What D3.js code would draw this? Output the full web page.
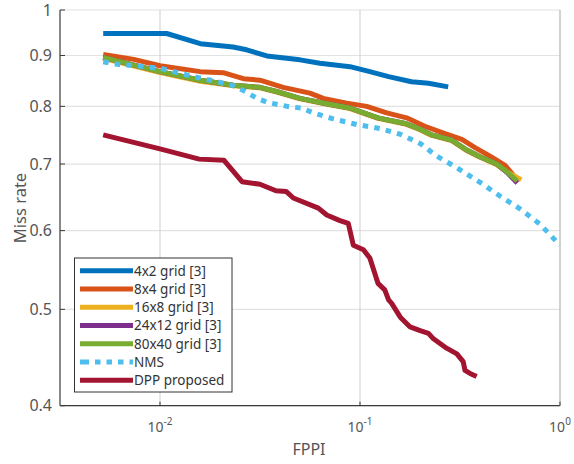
<!DOCTYPE html>
<html>
<head>
<meta charset="utf-8">
<script src="https://cdn.jsdelivr.net/npm/d3@7"></script>
<style>
  body { margin: 0; background: #fff; }
  svg { display: block; font-family: "Noto Sans", sans-serif; }
</style>
</head>
<body>
<svg id="chart" width="574" height="464"></svg>
<script>
// values (FPPI vs miss rate)
const fppi4x2 = [0.0052, 0.0082, 0.0108, 0.0159, 0.0232, 0.0271, 0.0342, 0.0501, 0.0631, 0.0891, 0.112, 0.139, 0.181, 0.220, 0.276];
const mr4x2   = [0.947, 0.947, 0.947, 0.925, 0.918, 0.912, 0.899, 0.891, 0.884, 0.877, 0.867, 0.857, 0.847, 0.844, 0.837];

const fppi8x4 = [0.0052, 0.0074, 0.0100, 0.0159, 0.0207, 0.0261, 0.0316, 0.0413, 0.0562, 0.0655, 0.0858, 0.108, 0.136, 0.171, 0.211, 0.266, 0.323, 0.376, 0.447, 0.531, 0.600];
const mr8x4   = [0.902, 0.892, 0.879, 0.867, 0.865, 0.853, 0.850, 0.836, 0.825, 0.815, 0.806, 0.800, 0.788, 0.779, 0.764, 0.751, 0.741, 0.727, 0.713, 0.698, 0.678];

const fppi16x8 = [0.0052, 0.0100, 0.0159, 0.0233, 0.0316, 0.0383, 0.0501, 0.0682, 0.0891, 0.106, 0.123, 0.168, 0.196, 0.228, 0.287, 0.342, 0.398, 0.483, 0.550, 0.640];
const mr16x8   = [0.894, 0.865, 0.848, 0.839, 0.835, 0.827, 0.814, 0.804, 0.796, 0.786, 0.778, 0.768, 0.759, 0.748, 0.739, 0.722, 0.711, 0.699, 0.686, 0.675];

const fppi24x12 = [0.0052, 0.0100, 0.0159, 0.0233, 0.0316, 0.0383, 0.0501, 0.0682, 0.0891, 0.106, 0.123, 0.168, 0.196, 0.228, 0.287, 0.342, 0.398, 0.483, 0.550, 0.612];
const mr24x12   = [0.896, 0.867, 0.850, 0.840, 0.836, 0.828, 0.815, 0.805, 0.797, 0.787, 0.779, 0.769, 0.760, 0.749, 0.740, 0.723, 0.712, 0.700, 0.685, 0.670];

const fppi80x40 = [0.0052, 0.0100, 0.0159, 0.0233, 0.0316, 0.0383, 0.0501, 0.0682, 0.0891, 0.106, 0.123, 0.168, 0.196, 0.228, 0.287, 0.342, 0.398, 0.483, 0.550, 0.610];
const mr80x40   = [0.896, 0.867, 0.850, 0.840, 0.836, 0.828, 0.815, 0.805, 0.797, 0.787, 0.779, 0.769, 0.760, 0.749, 0.740, 0.723, 0.712, 0.700, 0.686, 0.673];

const fppiNMS = [0.0052, 0.0058, 0.0100, 0.0147, 0.0185, 0.0233, 0.0271, 0.0305, 0.0348, 0.0447, 0.0511, 0.0584, 0.0736, 0.0963, 0.126, 0.159, 0.200, 0.242, 0.305, 0.398, 0.501, 0.631, 0.794, 1.0];
const mrNMS   = [0.887, 0.883, 0.874, 0.857, 0.849, 0.839, 0.827, 0.815, 0.807, 0.799, 0.797, 0.788, 0.777, 0.767, 0.760, 0.750, 0.734, 0.713, 0.694, 0.671, 0.650, 0.631, 0.609, 0.580];

const fppiDPP = [0.0052, 0.0100, 0.0157, 0.0209, 0.0257, 0.0316, 0.0380, 0.0427, 0.0464, 0.0619, 0.0682, 0.0794, 0.0874, 0.0926, 0.104, 0.112, 0.123, 0.133, 0.139, 0.144, 0.159, 0.178, 0.200, 0.220, 0.233, 0.271, 0.305, 0.328, 0.335, 0.355, 0.383];
const mrDPP   = [0.749, 0.725, 0.708, 0.706, 0.672, 0.668, 0.658, 0.657, 0.647, 0.632, 0.622, 0.614, 0.610, 0.580, 0.574, 0.563, 0.531, 0.523, 0.511, 0.507, 0.491, 0.480, 0.476, 0.473, 0.467, 0.457, 0.451, 0.443, 0.434, 0.431, 0.428];

const seriesNames = ["4x2 grid [3]", "8x4 grid [3]", "16x8 grid [3]", "24x12 grid [3]", "80x40 grid [3]", "NMS", "DPP proposed"];
const seriesColors = ["#0072BD", "#D95319", "#EDB120", "#7E2F8E", "#77AC30", "#4DBEEE", "#A2142F"];
const yTicks = [0.4, 0.5, 0.6, 0.7, 0.8, 0.9, 1];
const xTicks = [0.01, 0.1, 1];
const xTickExp = ["-2", "-1", "0"];

const seriesX = [fppi4x2, fppi8x4, fppi16x8, fppi24x12, fppi80x40, fppiNMS, fppiDPP];
const seriesY = [mr4x2, mr8x4, mr16x8, mr24x12, mr80x40, mrNMS, mrDPP];
const series = seriesNames.map((name, i) => ({
  name: name,
  color: seriesColors[i],
  dotted: name === "NMS",
  points: seriesX[i].map((x, j) => [x, seriesY[i][j]])
}));

const svg = d3.select("#chart");
const plotL = 60, plotR = 560, plotT = 10, plotB = 405.7;

const x = d3.scaleLog().domain([Math.pow(10, -2.5), 1]).range([plotL, plotR]);
const y = d3.scaleLog().domain([0.4, 1]).range([plotB, plotT]);

// grid
svg.append("g").selectAll("line")
  .data(yTicks)
  .join("line")
  .attr("x1", plotL).attr("x2", plotR)
  .attr("y1", d => y(d)).attr("y2", d => y(d))
  .attr("stroke", "#e2e2e2").attr("stroke-width", 1.2);

svg.append("g").selectAll("line")
  .data(xTicks)
  .join("line")
  .attr("x1", d => x(d)).attr("x2", d => x(d))
  .attr("y1", plotT).attr("y2", plotB)
  .attr("stroke", "#cfcfcf").attr("stroke-width", 1);

// curves
const line = d3.line().x(d => x(d[0])).y(d => y(d[1]));

svg.append("g").selectAll("path")
  .data(series)
  .join("path")
  .attr("d", d => line(d.points))
  .attr("fill", "none")
  .attr("stroke", d => d.color)
  .attr("stroke-width", 5)
  .attr("stroke-linejoin", "round")
  .attr("stroke-dasharray", d => d.dotted ? "5.5 6.2" : null);

// axes (left and bottom dark, box edges light)
svg.append("line")
  .attr("x1", plotL).attr("x2", plotL).attr("y1", plotT).attr("y2", plotB)
  .attr("stroke", "#3a3a3a").attr("stroke-width", 1.2);
svg.append("line")
  .attr("x1", plotL).attr("x2", plotR).attr("y1", plotB).attr("y2", plotB)
  .attr("stroke", "#3a3a3a").attr("stroke-width", 1.2);
svg.append("line")
  .attr("x1", plotR).attr("x2", plotR).attr("y1", plotT).attr("y2", plotB)
  .attr("stroke", "#bdbdbd").attr("stroke-width", 1);

// y ticks
const yAxis = svg.append("g");
yAxis.selectAll("line")
  .data(yTicks)
  .join("line")
  .attr("x1", plotL).attr("x2", plotL + 5)
  .attr("y1", d => y(d)).attr("y2", d => y(d))
  .attr("stroke", "#3a3a3a");
yAxis.selectAll("text")
  .data(yTicks)
  .join("text")
  .attr("x", 52)
  .attr("y", d => y(d))
  .attr("dy", "0.36em")
  .attr("text-anchor", "end")
  .attr("font-size", 16)
  .attr("fill", "#555")
  .text(d => d);

// x ticks
const xAxis = svg.append("g");
xAxis.selectAll("line")
  .data(xTicks)
  .join("line")
  .attr("x1", d => x(d)).attr("x2", d => x(d))
  .attr("y1", plotB).attr("y2", plotB - 4)
  .attr("stroke", "#3a3a3a");
const xLab = xAxis.selectAll("text")
  .data(xTicks)
  .join("text")
  .attr("x", d => x(d))
  .attr("y", 432)
  .attr("text-anchor", "middle")
  .attr("font-size", 14)
  .attr("fill", "#555");
xLab.append("tspan").text("10");
xLab.append("tspan")
  .attr("dy", -7)
  .attr("font-size", 10)
  .text((d, i) => xTickExp[i]);

// axis titles
svg.append("text")
  .attr("x", 309).attr("y", 455)
  .attr("text-anchor", "middle")
  .attr("font-size", 16)
  .attr("fill", "#555")
  .text("FPPI");
svg.append("text")
  .attr("transform", "translate(26,208) rotate(-90)")
  .attr("text-anchor", "middle")
  .attr("font-size", 16.5)
  .attr("fill", "#555")
  .text("Miss rate");

// legend
const legend = svg.append("g");
legend.append("rect")
  .attr("x", 74.5).attr("y", 258)
  .attr("width", 157.5).attr("height", 134)
  .attr("fill", "#fff")
  .attr("stroke", "#333").attr("stroke-width", 1);

const rowY = d3.scaleLinear().domain([0, 6]).range([270.7, 380.3]);
const rows = legend.selectAll("g.row")
  .data(series)
  .join("g")
  .attr("class", "row")
  .attr("transform", (d, i) => `translate(0,${rowY(i)})`);
rows.append("line")
  .attr("x1", 80).attr("x2", 133)
  .attr("stroke", d => d.color)
  .attr("stroke-width", 5)
  .attr("stroke-dasharray", d => d.dotted ? "9 6 5.5 6 5.5 6 5.5 6 5.5" : null);
rows.append("text")
  .attr("x", 134)
  .attr("dy", "0.36em")
  .attr("font-size", 13.5)
  .attr("fill", "#333")
  .text(d => d.name);
</script>
</body>
</html>
